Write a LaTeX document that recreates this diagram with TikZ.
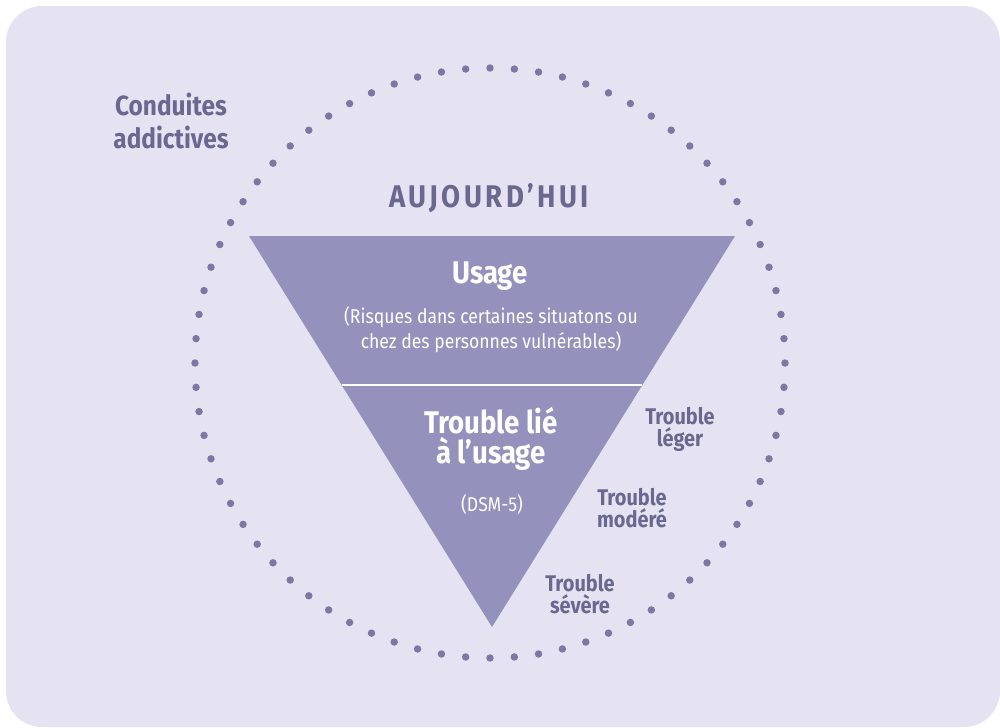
\documentclass[tikz,border=0pt]{standalone}
\usepackage{fontspec}
\usetikzlibrary{calc}
\setmainfont{Fira Sans}[FakeStretch=0.88]
\definecolor{bgc}{HTML}{E5E3F1}
\definecolor{tric}{HTML}{9591BD}
\definecolor{dotc}{HTML}{7B78A3}
\definecolor{txtc}{HTML}{6A6791}
\tikzset{
  lbl/.style={text=txtc, font=\bfseries\fontsize{17}{20}\selectfont, inner sep=0pt, anchor=base},
  biglbl/.style={text=txtc, font=\bfseries\fontsize{20.8}{24}\selectfont, inner sep=0pt, anchor=base},
  titlelbl/.style={text=txtc, font=\bfseries\fontsize{23.5}{28}\selectfont\addfontfeature{LetterSpace=11}, inner sep=0pt, anchor=base},
  whitebig/.style={text=white, font=\bfseries\fontsize{23.5}{28}\selectfont, inner sep=0pt, anchor=base},
  whitesmall/.style={text=white, font=\fontsize{15}{18}\selectfont, inner sep=0pt, anchor=base},
  dotmark/.style={fill=dotc}
}
\begin{document}
\begin{tikzpicture}[x=0.75pt,y=-0.75pt]
\useasboundingbox (0,0) rectangle (1000,728);
\fill[bgc, rounded corners=27pt] (6,6) rectangle (1000,727);
% dotted circle
\coordinate (ctr) at (490,363);
\foreach \i in {0,...,75}{
  \pgfmathsetmacro{\ang}{90+\i*4.7368421}
  \pgfmathsetmacro{\px}{490+295*cos(\ang)}
  \pgfmathsetmacro{\py}{363+295*sin(\ang)}
  \fill[dotmark] (\px,\py) circle[radius=2.8pt];
}
% funnel
\coordinate (tl) at (249,236);
\coordinate (tr) at (735,236);
\coordinate (ap) at (492,627);
\fill[tric] (tl) -- (tr) -- (ap) -- cycle;
\coordinate (dl) at ($(tl)!0.381!(ap)$);
\coordinate (dr) at ($(tr)!0.381!(ap)$);
\draw[white, line width=1.6pt] (dl) -- (dr);
% labels
\node[biglbl] (cond1) at (171,115) {Conduites};
\node[biglbl] (cond2) at (171,148) {addictives};
\node[titlelbl] (today) at (489,207) {AUJOURD’HUI};
\node[whitebig] (usage) at (490,283) {Usage};
\node[whitesmall] (risk1) at (491,323) {(Risques dans certaines situatons ou};
\node[whitesmall] (risk2) at (491,348) {chez des personnes vulnérables)};
\node[whitebig] (tr1) at (491,433) {Trouble lié};
\node[whitebig] (tr2) at (491,463) {à l’usage};
\node[whitesmall] (dsm) at (492,511) {(DSM-5)};
\node[lbl] (leg1) at (680,424) {Trouble};
\node[lbl] (leg2) at (680,446) {léger};
\node[lbl] (mod1) at (632,505) {Trouble};
\node[lbl] (mod2) at (632,527) {modéré};
\node[lbl] (sev1) at (580,591) {Trouble};
\node[lbl] (sev2) at (580,613) {sévère};
\end{tikzpicture}
\end{document}
